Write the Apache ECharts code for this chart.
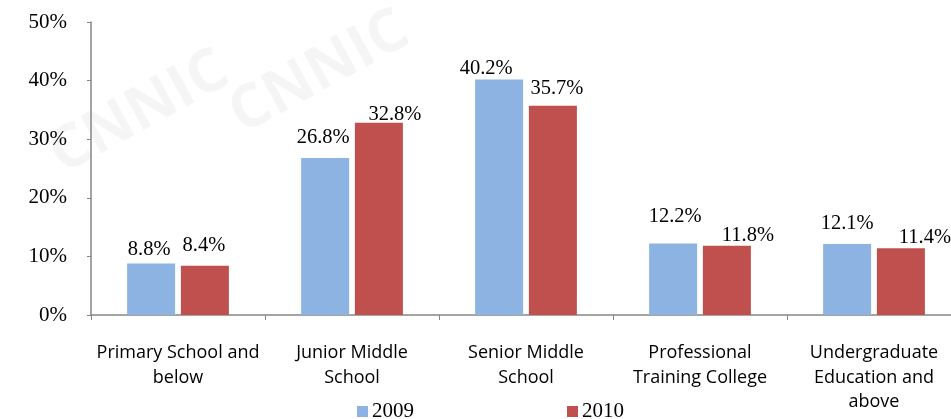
<!DOCTYPE html>
<html>
<head>
<meta charset="utf-8">
<script src="https://cdn.jsdelivr.net/npm/echarts@6/dist/echarts.min.js"></script>
<style>
  html, body { margin: 0; padding: 0; background: #fff; }
  #main { width: 951px; height: 419px; }
</style>
</head>
<body>
<div id="main"></div>
<script>
// chart data
var categories = [
  'Primary School and\nbelow',
  'Junior Middle\nSchool',
  'Senior Middle\nSchool',
  'Professional\nTraining College',
  'Undergraduate\nEducation and\nabove'
];
var years = ['2009', '2010'];
var values2009 = [8.8, 26.8, 40.2, 12.2, 12.1];
var values2010 = [8.4, 32.8, 35.7, 11.8, 11.4];

// the original labels were nudged by hand, keep that look
var labelShift2009 = [[-2, 1], [-2, -6], [-13, 4], [2, -12], [0, -6]];
var labelShift2010 = [[-1, -6], [16, 6], [4, -3], [21, 4], [24, 4]];

var serif = '"Liberation Serif", "DejaVu Serif", serif';
var sans = '"Open Sans", "Liberation Sans", sans-serif';

var chart = echarts.init(document.getElementById('main'));

function barSeries(name, data, shifts, color) {
  return {
    name: name,
    type: 'bar',
    data: data.map(function (v, i) {
      return { value: v, label: { offset: shifts[i] } };
    }),
    barWidth: 48,
    barGap: '12%',
    itemStyle: { color: color },
    label: {
      show: true,
      position: 'top',
      distance: 4,
      fontFamily: serif,
      fontSize: 20.5,
      color: '#000',
      formatter: function (p) { return p.value.toFixed(1) + '%'; }
    }
  };
}

chart.setOption({
  animation: false,
  graphic: [
    { type: 'text', left: 40, top: 40, rotation: 0.5, z: -1,
      style: { text: 'CNNIC', fontSize: 60, fontWeight: 'bold', fontFamily: sans, fill: 'rgba(0,0,0,0.04)' } },
    { type: 'text', left: 220, top: 0, rotation: 0.5, z: -1,
      style: { text: 'CNNIC', fontSize: 60, fontWeight: 'bold', fontFamily: sans, fill: 'rgba(0,0,0,0.04)' } }
  ],
  grid: { left: 91, right: -10, top: 22, bottom: 104, containLabel: false, outerBoundsMode: 'none' },
  legend: {
    data: years,
    bottom: -8,
    left: 352,
    itemWidth: 11,
    itemHeight: 11,
    itemGap: 153,
    icon: 'rect',
    textStyle: { fontFamily: serif, fontSize: 21, color: '#000', padding: [0, 0, 0, -1] }
  },
  xAxis: {
    type: 'category',
    data: categories,
    axisLine: { lineStyle: { color: '#868686', width: 1.5 } },
    axisTick: { show: true, alignWithLabel: false, length: 5, lineStyle: { color: '#868686' } },
    axisLabel: {
      fontFamily: sans,
      fontSize: 18,
      color: '#000',
      lineHeight: 24.5,
      margin: 26,
      interval: 0
    }
  },
  yAxis: {
    type: 'value',
    min: 0,
    max: 50,
    interval: 10,
    splitLine: { show: false },
    axisLine: { show: true, lineStyle: { color: '#868686', width: 1.5 } },
    axisTick: { show: true, inside: false, length: 4, lineStyle: { color: '#868686' } },
    axisLabel: {
      fontFamily: serif,
      fontSize: 21,
      color: '#000',
      margin: 24,
      formatter: '{value}%'
    }
  },
  series: [
    barSeries(years[0], values2009, labelShift2009, '#8DB3E2'),
    barSeries(years[1], values2010, labelShift2010, '#C0504D')
  ]
});
</script>
</body>
</html>
